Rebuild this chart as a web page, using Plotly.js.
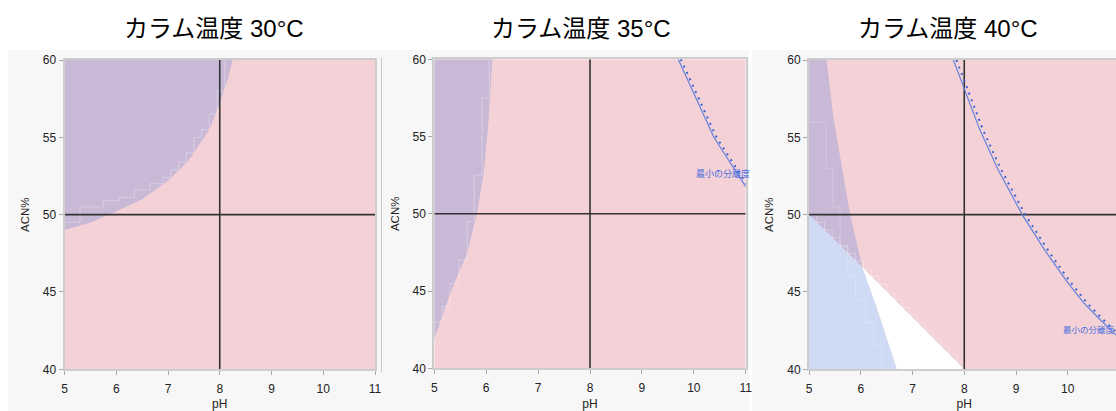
<!DOCTYPE html>
<html>
<head>
<meta charset="utf-8">
<script src="https://cdn.plot.ly/plotly-3.0.1.min.js"></script>
<style>
html,body{margin:0;padding:0;overflow:hidden;background:#fff;}
#chart{width:1125px;height:411px;}
</style>
</head>
<body>
<div id="chart"></div>
<script>
// ---------- data ----------
const panelTitles = ["カラム温度 30°C", "カラム温度 35°C", "カラム温度 40°C"];
const xTicks = [5, 6, 7, 8, 9, 10, 11];
const yTicks = [40, 45, 50, 55, 60];
const phRange = [5, 11];
const acnRange = [40, 60];
const crossPH = 8;
const crossACN = 50;
const contourLabel = "最小の分離度";

// 30°C : purple region boundary
const p1_ph  = [5.0, 5.5, 6.0, 6.5, 7.0, 7.4, 7.8, 8.0, 8.15, 8.25];
const p1_acn = [49.0, 49.5, 50.2, 51.0, 52.2, 53.5, 55.5, 57.2, 58.7, 60.0];
const p1_step_ph  = [5.0, 5.3, 5.75, 6.05, 6.35, 6.65, 6.9, 7.05, 7.2, 7.35, 7.5, 7.65, 7.8, 7.95, 8.1];
const p1_step_acn = [49.5, 50.5, 50.9, 51.1, 51.6, 52.0, 52.4, 52.9, 53.4, 54.0, 55.0, 55.5, 56.5, 58.0, 60.0];

// 35°C : purple region boundary
const p2_ph  = [5.0, 5.15, 5.3, 5.45, 5.63, 5.82, 5.95, 6.04, 6.12];
const p2_acn = [41.9, 43.3, 44.8, 46.0, 47.4, 50.0, 52.6, 55.8, 60.0];
const p2_step_ph  = [5.0, 5.15, 5.3, 5.48, 5.63, 5.77, 5.92, 6.06];
const p2_step_acn = [43.0, 44.0, 45.5, 47.0, 49.5, 52.5, 57.5, 60.0];
// 35°C : minimum resolution contour
const r2_ph  = [9.70, 9.85, 10.0, 10.2, 10.38, 10.55, 10.7, 10.85, 11.0];
const r2_acn = [60.0, 58.9, 57.9, 56.4, 55.0, 54.1, 53.3, 52.5, 51.75];
const r2dot_ph  = [9.75, 9.9, 10.05, 10.25, 10.43, 10.6, 10.75, 10.9, 11.05];
const r2dot_acn = [60.0, 58.9, 57.9, 56.4, 55.0, 54.1, 53.3, 52.5, 51.75];

// 40°C : purple/blue boundary curve (top to bottom) and diagonal line
const p3_ph  = [5.34, 5.47, 5.66, 5.79, 6.03, 6.31, 6.70];
const p3_acn = [60.0, 56.3, 52.7, 50.1, 46.6, 44.0, 40.0];
const p3_cross = 4; // index where the curve meets the diagonal
const d3_ph  = [5.0, 8.0];
const d3_acn = [50.0, 40.0];
const p3_step_ph  = [5.0, 5.33, 5.46, 5.6, 5.75, 5.9, 6.1, 6.25, 6.4, 6.55, 6.7];
const p3_step_acn = [60.0, 56.0, 53.0, 50.5, 47.9, 46.0, 44.5, 43.0, 41.5, 40.0, 40.0];
const d3_step_ph  = [5.0, 5.15, 5.3, 5.45, 5.6, 5.75, 5.9, 6.05, 6.2, 6.35, 6.5, 6.65, 6.8, 6.95, 7.1, 7.25, 7.4, 7.55, 7.7, 7.85, 8.0];
const d3_step_acn = [50.0, 49.5, 49.0, 48.5, 48.0, 47.5, 47.0, 46.5, 46.0, 45.5, 45.0, 44.5, 44.0, 43.5, 43.0, 42.5, 42.0, 41.5, 41.0, 40.5, 40.0];
// 40°C : minimum resolution contour
const r3_ph  = [7.79, 8.0, 8.3, 8.64, 9.12, 9.5, 9.66, 10.0, 10.31, 10.6, 11.0];
const r3_acn = [60.0, 58.1, 55.5, 53.0, 50.0, 48.0, 47.2, 45.6, 44.3, 43.3, 42.0];
const r3dot_ph  = [7.85, 8.06, 8.36, 8.7, 9.18, 9.56, 9.72, 10.06, 10.37, 10.66, 11.06];
const r3dot_acn = [60.0, 58.1, 55.5, 53.0, 50.0, 48.0, 47.2, 45.6, 44.3, 43.3, 42.0];

// ---------- styling ----------
const W = 1125, H = 411;
const PINK = "#f4d1d6", PURPLE = "#c9b9d7", BLUE = "#cfdaf4", WHITE = "#ffffff";
const CURVE = "#6182dc", DOTS = "#3e64d4";
const FONT = "Liberation Sans, Arial, Noto Sans CJK JP, sans-serif";
const px = v => v / W;
const py = v => 1 - v / H;

const plots = [
  {x: [64.5, 375], y: [60, 369.3]},
  {x: [434.3, 745.7], y: [59.3, 368.3]},
  {x: [809, 1119.5], y: [60, 369.3]}
];

const traces = [];
function ids(i){ const s = i === 0 ? "" : String(i + 1); return {x: "x" + s, y: "y" + s}; }
function poly(i, xs, ys, color){
  const a = ids(i);
  traces.push({type: "scatter", mode: "lines", x: xs, y: ys, xaxis: a.x, yaxis: a.y,
    fill: "toself", fillcolor: color, line: {width: 0, color: color}, hoverinfo: "skip", showlegend: false});
}
function line(i, xs, ys, color, width, extra){
  const a = ids(i);
  traces.push(Object.assign({type: "scatter", mode: "lines", x: xs, y: ys, xaxis: a.x, yaxis: a.y,
    line: {color: color, width: width}, hoverinfo: "skip", showlegend: false}, extra || {}));
}
const rectX = [phRange[0], phRange[1], phRange[1], phRange[0]];
const rectY = [acnRange[0], acnRange[0], acnRange[1], acnRange[1]];
const STEP = "rgba(255,255,255,0.3)";

// panel 1
poly(0, rectX, rectY, PINK);
poly(0, [phRange[0]].concat(p1_ph), [acnRange[1]].concat(p1_acn), PURPLE);
line(0, p1_step_ph, p1_step_acn, STEP, 1, {line: {color: STEP, width: 1, shape: "hv"}});

// panel 2
poly(1, rectX, rectY, PINK);
poly(1, [phRange[0]].concat(p2_ph), [acnRange[1]].concat(p2_acn), PURPLE);
line(1, p2_step_ph, p2_step_acn, STEP, 1, {line: {color: STEP, width: 1, shape: "hv"}});

// panel 3
poly(2, rectX, rectY, PINK);
const cUpX = p3_ph.slice(0, p3_cross + 1), cUpY = p3_acn.slice(0, p3_cross + 1);
const cLoX = p3_ph.slice(p3_cross), cLoY = p3_acn.slice(p3_cross);
poly(2, [phRange[0]].concat(cUpX, [d3_ph[0]]), [acnRange[1]].concat(cUpY, [d3_acn[0]]), PURPLE);
poly(2, [d3_ph[0]].concat(cLoX, [phRange[0]]), [d3_acn[0]].concat(cLoY, [acnRange[0]]), BLUE);
poly(2, cLoX.concat([d3_ph[1]]), cLoY.concat([d3_acn[1]]), WHITE);
line(2, p3_step_ph, p3_step_acn, "rgba(255,255,255,0.22)", 1, {line: {color: "rgba(255,255,255,0.22)", width: 1, shape: "vh"}});
line(2, d3_step_ph, d3_step_acn, STEP, 1, {line: {color: STEP, width: 1, shape: "hv"}});

// crosshairs
for (let i = 0; i < 3; i++) {
  line(i, [crossPH, crossPH], acnRange, "#333333", 1.6);
  line(i, phRange, [crossACN, crossACN], "#333333", 1.6);
}
// resolution contours
line(1, r2_ph, r2_acn, CURVE, 1.2);
line(1, r2dot_ph, r2dot_acn, DOTS, 2, {line: {color: DOTS, width: 2, dash: "2px,5px"}});
line(2, r3_ph, r3_acn, CURVE, 1.2);
line(2, r3dot_ph, r3dot_acn, DOTS, 2, {line: {color: DOTS, width: 2, dash: "2px,5px"}});

// ---------- layout ----------
const layout = {
  width: W, height: H,
  margin: {l: 0, r: 0, t: 0, b: 0, pad: 0},
  paper_bgcolor: "#ffffff",
  plot_bgcolor: "rgba(0,0,0,0)",
  showlegend: false,
  font: {family: FONT, color: "#222"},
  shapes: [
    {type: "rect", xref: "paper", yref: "paper", x0: px(8), x1: px(749), y0: py(411), y1: py(50),
      fillcolor: "#f7f7f7", line: {width: 0}, layer: "below"},
    {type: "rect", xref: "paper", yref: "paper", x0: px(752), x1: 1, y0: py(411), y1: py(50),
      fillcolor: "#f7f7f7", line: {width: 0}, layer: "below"},
    {type: "line", xref: "paper", yref: "paper", x0: px(381.5), x1: px(381.5), y0: py(372), y1: py(58),
      line: {color: "#c8c8c8", width: 1}, layer: "below"}
  ],
  annotations: []
};
const titleCenters = [214, 581, 948];
plots.forEach((p, i) => {
  const s = i === 0 ? "" : String(i + 1);
  const common = {
    showgrid: false, zeroline: false, showline: true, mirror: true,
    linecolor: "#cdcdcd", linewidth: 2, ticks: "outside", ticklen: 4, tickwidth: 1,
    tickcolor: "#a8a8a8", tickfont: {family: FONT, size: 12, color: "#222"}, fixedrange: true
  };
  layout["xaxis" + s] = Object.assign({}, common, {
    domain: [px(p.x[0]), px(p.x[1])], range: phRange, tickmode: "array", tickvals: xTicks,
    ticklabelstandoff: 3,
    anchor: "y" + s, title: {text: "pH", font: {family: FONT, size: 12, color: "#222"}, standoff: 8}
  });
  layout["yaxis" + s] = Object.assign({}, common, {
    domain: [py(p.y[1]), py(p.y[0])], range: acnRange, tickmode: "array", tickvals: yTicks,
    anchor: "x" + s, title: {text: "ACN%", font: {family: FONT, size: 11.5, color: "#222"}, standoff: 11}
  });
  layout.annotations.push({
    xref: "paper", yref: "paper", x: px(titleCenters[i]), y: py(28), xanchor: "center", yanchor: "middle",
    text: panelTitles[i], showarrow: false, font: {family: FONT, size: 24, color: "#000"}
  });
});
layout.annotations.push({xref: "x2", yref: "y2", x: 10.0, y: 52.6, xanchor: "left", yanchor: "middle",
  text: contourLabel, showarrow: false, font: {family: "Noto Sans CJK JP, sans-serif", size: 9, color: "#4a6fe0"}});
layout.annotations.push({xref: "x3", yref: "y3", x: 9.86, y: 42.6, xanchor: "left", yanchor: "middle",
  text: contourLabel, showarrow: false, font: {family: "Noto Sans CJK JP, sans-serif", size: 8.5, color: "#4a6fe0"}});

Plotly.newPlot("chart", traces, layout, {staticPlot: true, displayModeBar: false});
</script>
</body>
</html>
